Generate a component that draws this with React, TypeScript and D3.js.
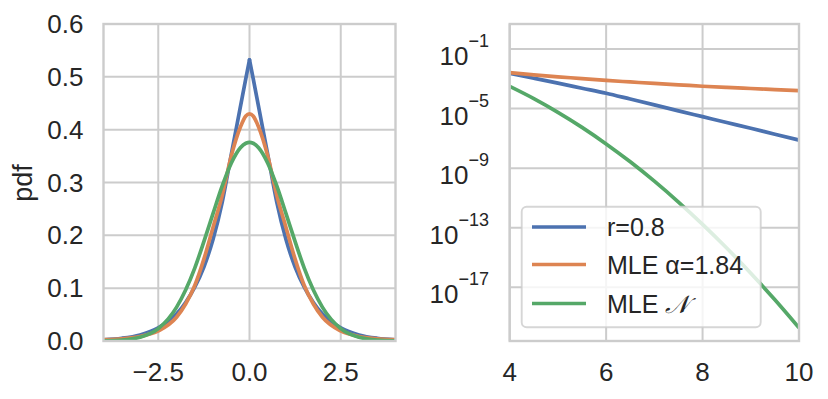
import React from 'react';
import * as d3 from 'd3';

// ---- Left panel data (pdf, linear scale) ----
const xLeft = [-4, -3.5, -3, -2.5, -2, -1.75, -1.5, -1.25, -1, -0.75, -0.5, -0.25, -0.1, 0, 0.1, 0.25, 0.5, 0.75, 1, 1.25, 1.5, 1.75, 2, 2.5, 3, 3.5, 4];
const blueLeft = [0.0024, 0.0052, 0.0115, 0.025, 0.051, 0.073, 0.102, 0.14, 0.192, 0.262, 0.353, 0.443, 0.497, 0.532, 0.497, 0.443, 0.353, 0.262, 0.192, 0.14, 0.102, 0.073, 0.051, 0.025, 0.0115, 0.0052, 0.0024];
const orangeLeft = [0.0026, 0.0043, 0.0085, 0.019, 0.045, 0.07, 0.105, 0.155, 0.215, 0.275, 0.35, 0.405, 0.426, 0.43, 0.426, 0.405, 0.35, 0.275, 0.215, 0.155, 0.105, 0.07, 0.045, 0.019, 0.0085, 0.0043, 0.0026];
const greenLeft = [0.0003, 0.0016, 0.0069, 0.0234, 0.0637, 0.0965, 0.138, 0.188, 0.241, 0.293, 0.3365, 0.3657, 0.3743, 0.376, 0.3743, 0.3657, 0.3365, 0.293, 0.241, 0.188, 0.138, 0.0965, 0.0637, 0.0234, 0.0069, 0.0016, 0.0003];

// ---- Right panel data (tail, log scale) ----
const xRight = [4, 4.5, 5, 5.5, 6, 6.5, 7, 7.5, 8, 8.5, 9, 9.5, 10];
const blueRight = [2.34e-3, 1.1e-3, 5.13e-4, 2.34e-4, 1.07e-4, 4.37e-5, 1.78e-5, 7.08e-6, 2.88e-6, 1.17e-6, 4.79e-7, 1.91e-7, 7.76e-8];
const orangeRight = [2.57e-3, 1.84e-3, 1.36e-3, 1.04e-3, 7.76e-4, 6.17e-4, 4.9e-4, 3.98e-4, 3.16e-4, 2.63e-4, 2.24e-4, 1.91e-4, 1.62e-4];
const greenRight = [3.1e-4, 4.68e-5, 5.62e-6, 5.5e-7, 4.27e-8, 2.69e-9, 1.35e-10, 5.37e-12, 1.7e-13, 4.37e-15, 8.91e-17, 1.48e-18, 1.95e-20];

// ---- Ticks & labels ----
const leftXTicks = [-2.5, 0, 2.5];
const leftXTickLabels = ['\u22122.5', '0.0', '2.5'];
const leftYTicks = [0, 0.1, 0.2, 0.3, 0.4, 0.5, 0.6];
const leftYTickLabels = ['0.0', '0.1', '0.2', '0.3', '0.4', '0.5', '0.6'];
const rightXTicks = [4, 6, 8, 10];
const rightXTickLabels = ['4', '6', '8', '10'];
const rightYExponents = [-1, -5, -9, -13, -17];
const seriesNames = ['r=0.8', 'MLE \u03b1=1.84', 'MLE '];
const colors = ['#4C72B0', '#DD8452', '#55A868'];
const yLabel = 'pdf';

const FONT = '"Liberation Sans", Arial, Helvetica, sans-serif';
const TXT = '#262626';
const GRID = '#cccccc';

export default function App() {
  const W = 828, H = 399;
  const top = 24, bottom = 341;
  const L = { x0: 103.5, x1: 395.5 };
  const R = { x0: 509.7, x1: 799 };

  const xl = d3.scaleLinear().domain([-4, 4]).range([L.x0, L.x1]);
  const yl = d3.scaleLinear().domain([0, 0.6]).range([bottom, top]);
  const xr = d3.scaleLinear().domain([4, 10]).range([R.x0, R.x1]);
  const yr = d3.scaleLog().domain([Math.pow(10, -20.6), Math.pow(10, 0.68)]).range([bottom, top]);

  const mkLeft = (vals: number[], idx: number[]) =>
    d3.line<number>()
      .x((i) => xl(xLeft[i]))
      .y((i) => yl(vals[i]))
      .curve(d3.curveMonotoneX)(idx) || '';
  const allIdx = xLeft.map((_, i) => i);
  const zeroIdx = xLeft.indexOf(0);
  const leftHalf = allIdx.filter((i) => i <= zeroIdx);
  const rightHalf = allIdx.filter((i) => i >= zeroIdx);

  const mkRight = (vals: number[]) =>
    d3.line<number>()
      .x((_, i) => xr(xRight[i]))
      .y((v) => yr(v))
      .curve(d3.curveMonotoneX)(vals) || '';

  const lw = 3.7;
  const gridW = 2;
  const spineW = 2.4;
  const fs = 26;
  const lfs = 25;

  const leftSeries = [blueLeft, orangeLeft, greenLeft];
  const rightSeries = [blueRight, orangeRight, greenRight];

  // legend geometry
  const lg = { x: 521.7, y: 206.7, w: 239, h: 120.6 };
  const lgRows = [227, 264.5, 303.5];

  return (
    <div style={{ position: 'fixed', left: 0, top: 0, width: W, height: H, background: '#fff' }}>
      <svg width={W} height={H} viewBox={`0 0 ${W} ${H}`} style={{ display: 'block' }} fontFamily={FONT}>
        <defs>
          <clipPath id="clipL">
            <rect x={L.x0} y={top} width={L.x1 - L.x0} height={bottom - top} />
          </clipPath>
          <clipPath id="clipR">
            <rect x={R.x0} y={top} width={R.x1 - R.x0} height={bottom - top} />
          </clipPath>
        </defs>
        <rect x={0} y={0} width={W} height={H} fill="#fff" />

        {/* ---------- Left panel ---------- */}
        <g>
          {leftXTicks.map((t) => (
            <line key={'lgx' + t} x1={xl(t)} x2={xl(t)} y1={top} y2={bottom} stroke={GRID} strokeWidth={gridW} />
          ))}
          {leftYTicks.map((t) => (
            <line key={'lgy' + t} x1={L.x0} x2={L.x1} y1={yl(t)} y2={yl(t)} stroke={GRID} strokeWidth={gridW} />
          ))}
          <g clipPath="url(#clipL)" fill="none" strokeWidth={lw}>
            <path d={mkLeft(blueLeft, leftHalf)} stroke={colors[0]} strokeLinecap="round" />
            <path d={mkLeft(blueLeft, rightHalf)} stroke={colors[0]} strokeLinecap="round" />
            <path d={mkLeft(leftSeries[1], allIdx)} stroke={colors[1]} />
            <path d={mkLeft(leftSeries[2], allIdx)} stroke={colors[2]} />
          </g>
          <rect x={L.x0} y={top} width={L.x1 - L.x0} height={bottom - top} fill="none" stroke={GRID} strokeWidth={spineW} />
          {leftYTicks.map((t, i) => (
            <text key={'lty' + t} x={83.5} y={yl(t)} dy="0.35em" textAnchor="end" fontSize={fs} fill={TXT}>
              {leftYTickLabels[i]}
            </text>
          ))}
          {leftXTicks.map((t, i) => (
            <text key={'ltx' + t} x={xl(t)} y={380.5} textAnchor="middle" fontSize={fs} fill={TXT}>
              {leftXTickLabels[i]}
            </text>
          ))}
          <text transform={`translate(31.5,183) rotate(-90)`} textAnchor="middle" fontSize={27} fill={TXT}>
            {yLabel}
          </text>
        </g>

        {/* ---------- Right panel ---------- */}
        <g>
          {rightXTicks.map((t) => (
            <line key={'rgx' + t} x1={xr(t)} x2={xr(t)} y1={top} y2={bottom} stroke={GRID} strokeWidth={gridW} />
          ))}
          {rightYExponents.map((e) => (
            <line key={'rgy' + e} x1={R.x0} x2={R.x1} y1={yr(Math.pow(10, e))} y2={yr(Math.pow(10, e))} stroke={GRID} strokeWidth={gridW} />
          ))}
          <g clipPath="url(#clipR)" fill="none" strokeWidth={lw}>
            {rightSeries.map((s, i) => (
              <path key={'rs' + i} d={mkRight(s)} stroke={colors[i]} />
            ))}
          </g>
          <rect x={R.x0} y={top} width={R.x1 - R.x0} height={bottom - top} fill="none" stroke={GRID} strokeWidth={spineW} />
          {rightYExponents.map((e) => (
            <text key={'rty' + e} x={489} y={yr(Math.pow(10, e)) + 16} textAnchor="end" fontSize={fs} fill={TXT}>
              <tspan>10</tspan>
              <tspan dy={-18} fontSize={18}>{'\u2212' + Math.abs(e)}</tspan>
            </text>
          ))}
          {rightXTicks.map((t, i) => (
            <text key={'rtx' + t} x={xr(t)} y={380.5} textAnchor="middle" fontSize={fs} fill={TXT}>
              {rightXTickLabels[i]}
            </text>
          ))}

          {/* legend */}
          <rect x={lg.x} y={lg.y} width={lg.w} height={lg.h} rx={5} ry={5} fill="#ffffff" fillOpacity={0.8} stroke="#cccccc" strokeOpacity={0.8} strokeWidth={1.9} />
          {seriesNames.map((name, i) => (
            <g key={'lg' + i}>
              <line x1={532} x2={586} y1={lgRows[i]} y2={lgRows[i]} stroke={colors[i]} strokeWidth={lw} />
              <text x={607} y={lgRows[i] + 9} fontSize={lfs} fill={TXT}>
                {name}
                {i === 2 ? (
                  <tspan fontFamily='"DejaVu Serif", serif' fontStyle="italic">{'\uD835\uDCA9'}</tspan>
                ) : null}
              </text>
            </g>
          ))}
        </g>
      </svg>
    </div>
  );
}
